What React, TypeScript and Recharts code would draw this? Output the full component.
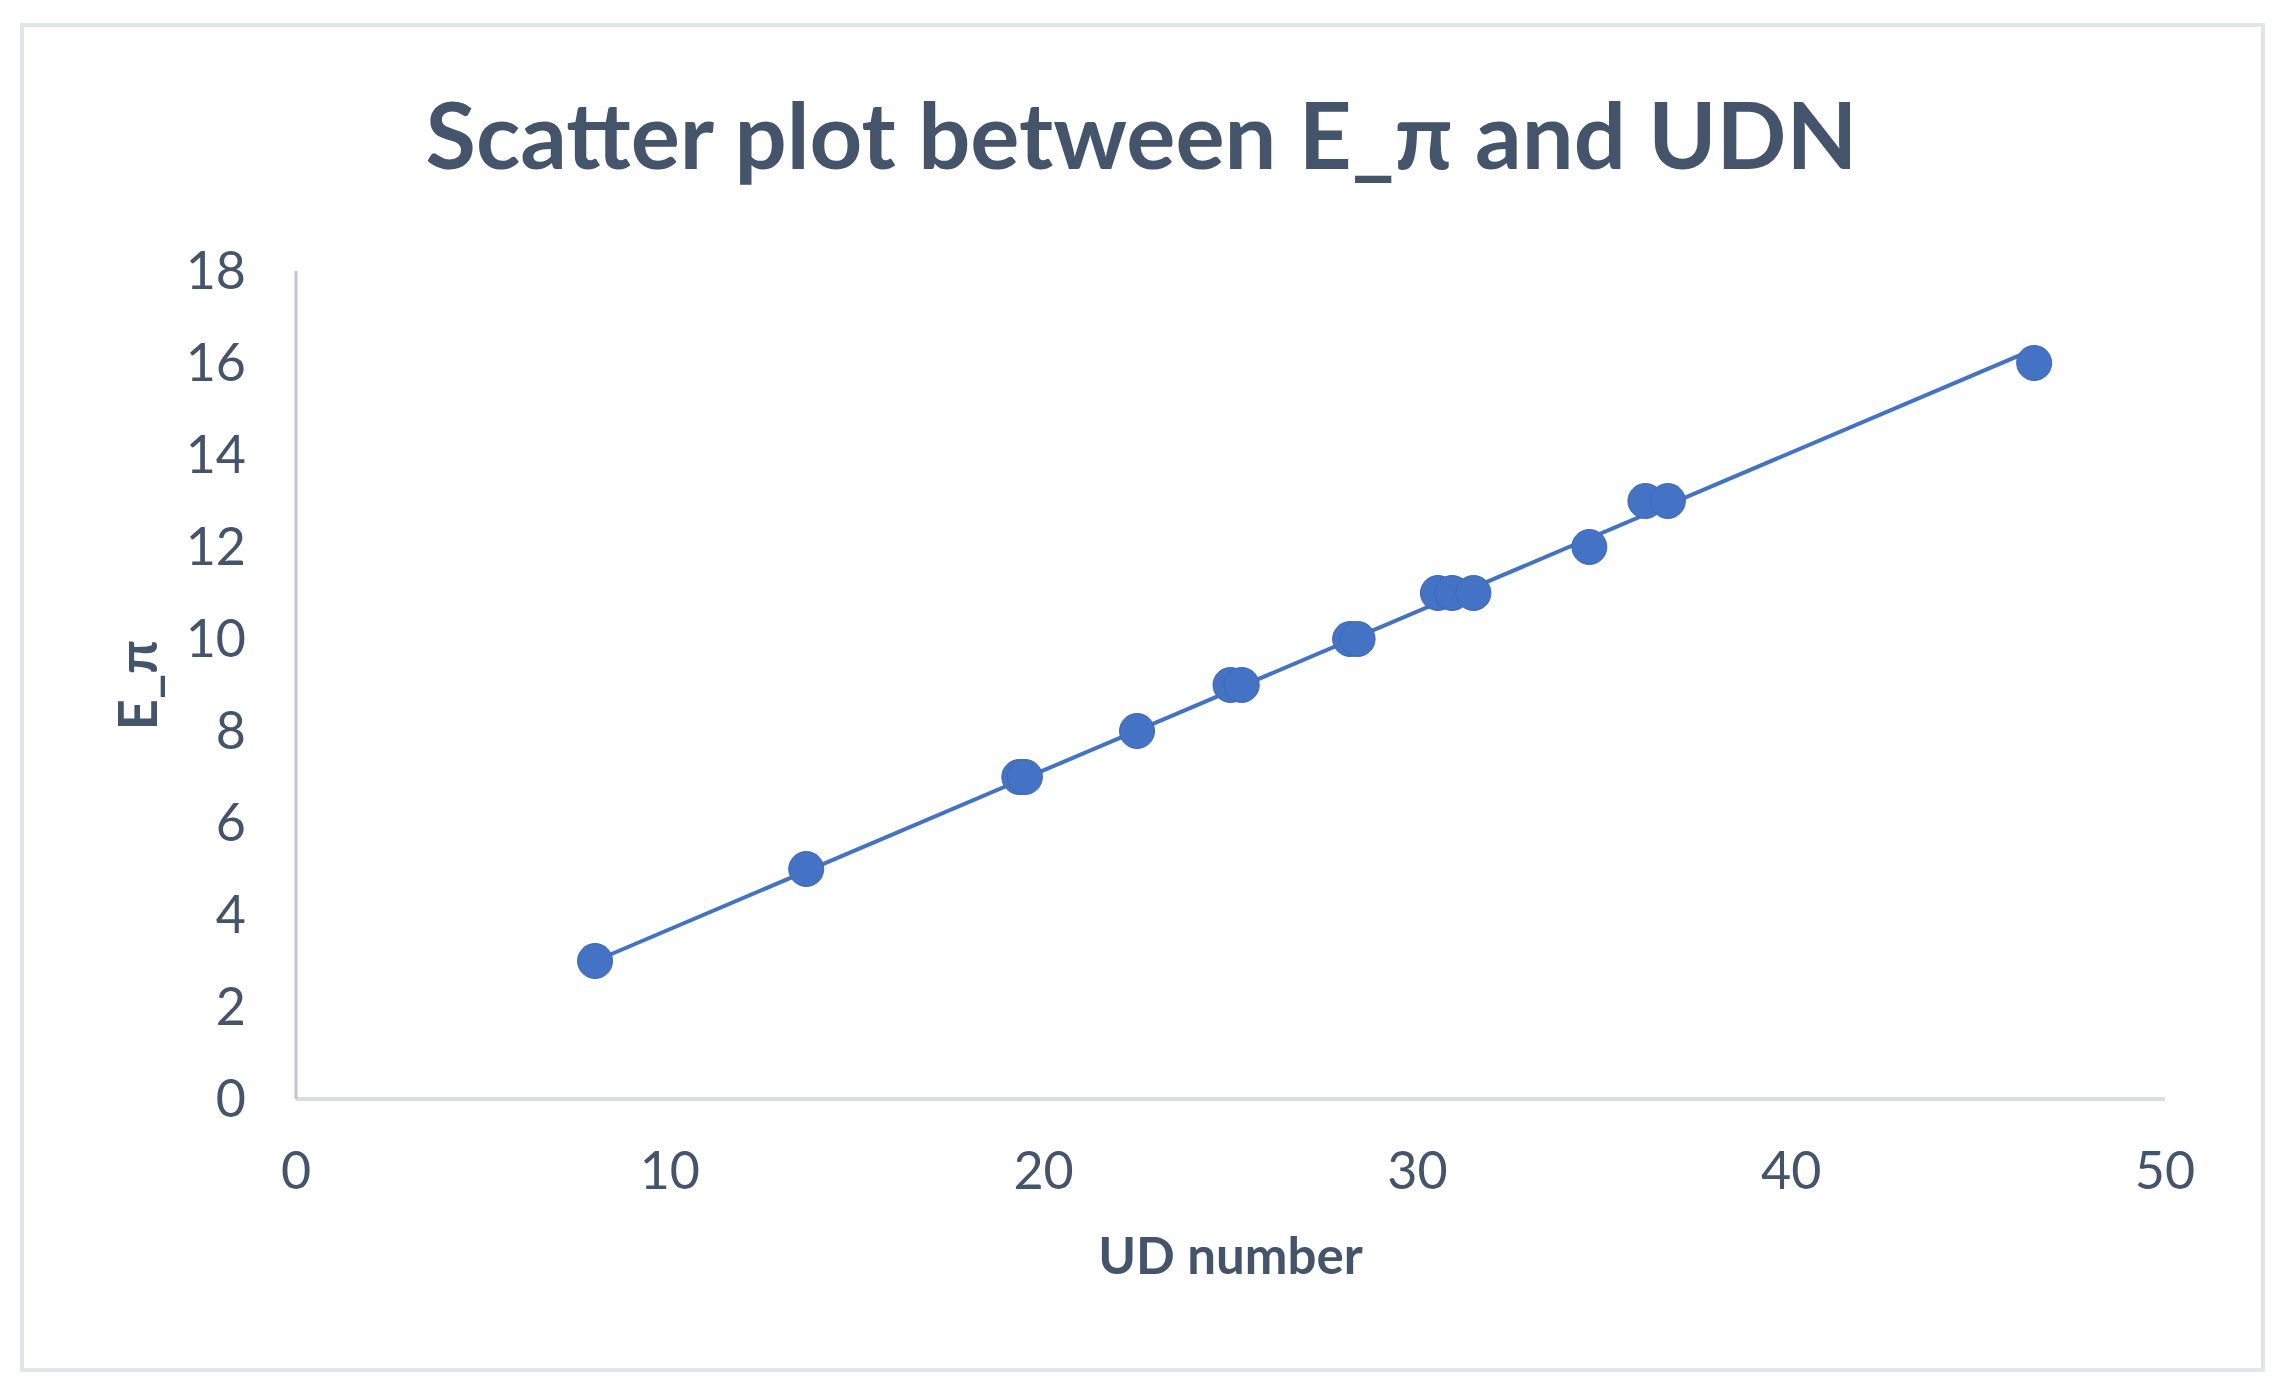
import React from 'react';
import { ScatterChart, Scatter, XAxis, YAxis, Label } from 'recharts';

const TEXT = '#44546A';
const BLUE = '#4472C4';
const FONT = 'Lato, "Open Sans", sans-serif';

// values
const udNumber = [8, 13.65, 19.35, 19.5, 22.5, 25.0, 25.3, 28.2, 28.4, 30.55, 30.93, 31.5, 34.6, 36.1, 36.7, 46.5];
const ePi = [3, 5, 7, 7, 8, 9, 9, 10, 10, 11, 11, 11, 12, 13, 13, 16];
const trendX = [8, 46.5];
const trendY = [3.0, 16.3];
const xTicks = [0, 10, 20, 30, 40, 50];
const yTicks = [0, 2, 4, 6, 8, 10, 12, 14, 16, 18];

const points = udNumber.map((x, i) => ({ x, y: ePi[i] }));
const trend = trendX.map((x, i) => ({ x, y: trendY[i] }));

const Dot = (props: any) => {
  if (props.cx == null || props.cy == null) return null;
  return <circle cx={props.cx} cy={props.cy} r={17.5} fill={BLUE} stroke="#3d68b8" strokeWidth={1} />;
};

export default function App() {
  return (
    <div style={{ position: 'absolute', left: 0, top: 0, width: 2285, height: 1395, background: '#fff' }}>
      <div
        style={{
          position: 'absolute', left: 20, top: 23, width: 2237, height: 1341,
          border: '4px solid #E1E4EA',
        }}
      />
      <div
        style={{
          position: 'absolute', left: 0, width: 2285, top: 88, textAlign: 'center',
          fontFamily: FONT, fontWeight: 700, fontSize: 92, lineHeight: 1,
          color: TEXT, transform: 'translateX(-1px)',
        }}
      >
        Scatter plot between E_π and UDN
      </div>
      <div style={{ position: 'absolute', left: 0, top: 0 }}>
        <ScatterChart width={2285} height={1395} margin={{ top: 271, right: 120, bottom: 196, left: 96 }}>
          <XAxis
            type="number"
            dataKey="x"
            domain={[0, 50]}
            ticks={xTicks}
            height={100}
            tickSize={0}
            tickMargin={53}
            axisLine={{ stroke: '#D9DCE3', strokeWidth: 4 }}
            tick={{ fill: TEXT, fontSize: 52, fontFamily: FONT }}
          >
            <Label
              value="UD number"
              position="bottom"
              offset={39}
              style={{ fill: TEXT, fontSize: 51, fontWeight: 700, fontFamily: FONT }}
            />
          </XAxis>
          <YAxis
            type="number"
            dataKey="y"
            domain={[0, 18]}
            ticks={yTicks}
            width={200}
            tickSize={0}
            tickMargin={50}
            axisLine={{ stroke: '#BFC6D4', strokeWidth: 3 }}
            tick={{ fill: TEXT, fontSize: 52, fontFamily: FONT }}
          >
            <Label
              value="E_π"
              angle={-90}
              position="insideLeft"
              offset={42}
              style={{ fill: TEXT, fontSize: 54, fontWeight: 700, fontFamily: FONT, textAnchor: 'middle' }}
            />
          </YAxis>
          <Scatter
            data={trend}
            line={{ stroke: BLUE, strokeWidth: 4 }}
            shape={() => null}
            isAnimationActive={false}
          />
          <Scatter data={points} shape={Dot} isAnimationActive={false} />
        </ScatterChart>
      </div>
    </div>
  );
}
